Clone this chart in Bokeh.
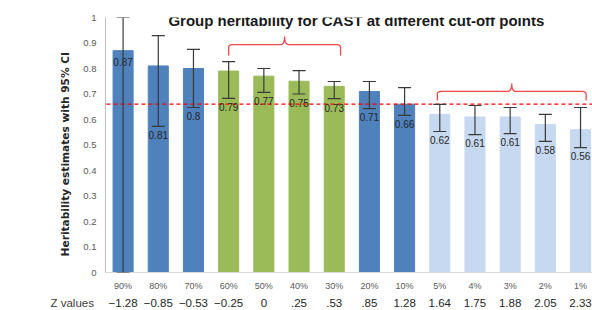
import numpy as np
from bokeh.plotting import figure
from bokeh.models import (ColumnDataSource, Whisker, Label, Arrow, LinearAxis, Title,
                          FixedTicker, TeeHead, Range1d, CustomJSTickFormatter)
from bokeh.core.properties import value
from bokeh.embed import file_html
from bokeh.resources import INLINE

cutoffs = ["90%", "80%", "70%", "60%", "50%", "40%", "30%", "20%", "10%",
           "5%", "4%", "3%", "2%", "1%"]
z_values = ["\u22121.28", "\u22120.85", "\u22120.53", "\u22120.25", "0", ".25", ".53",
            ".85", "1.28", "1.64", "1.75", "1.88", "2.05", "2.33"]
heritability = [0.87, 0.81, 0.80, 0.79, 0.77, 0.75, 0.73, 0.71, 0.66,
                0.62, 0.61, 0.61, 0.58, 0.56]
value_labels = ["0.87", "0.81", "0.8", "0.79", "0.77", "0.75", "0.73", "0.71", "0.66",
                "0.62", "0.61", "0.61", "0.58", "0.56"]
ci_lower = [0.0, 0.573, 0.647, 0.683, 0.706, 0.70, 0.682, 0.643, 0.616,
            0.553, 0.541, 0.545, 0.514, 0.49]
ci_upper = [1.0, 0.929, 0.875, 0.827, 0.80, 0.792, 0.749, 0.749, 0.725,
            0.659, 0.655, 0.647, 0.62, 0.647]
groups = ["blue", "blue", "blue", "green", "green", "green", "green", "blue", "blue",
          "light", "light", "light", "light", "light"]
threshold = 0.66
y_ticks = [0, 0.1, 0.2, 0.3, 0.4, 0.5, 0.6, 0.7, 0.8, 0.9, 1.0]

palette = {"blue": "#4F81BD", "green": "#9BBB59", "light": "#C6D9F1"}
FONT = "Liberation Sans"

n = len(cutoffs)
xs = np.arange(n)
h = np.array(heritability)
lo = np.array(ci_lower)
label_y = np.where(lo > 0.3, lo - 0.035, h - 0.045)

src = ColumnDataSource(dict(
    x=xs, h=h, lower=lo, upper=np.array(ci_upper),
    color=[palette[g] for g in groups], label=value_labels, ly=label_y))

p = figure(frame_width=487, frame_height=255, x_range=Range1d(-0.5, 13.34), y_range=Range1d(0, 1),
           output_backend="svg", toolbar_location=None,
           min_border_left=105, min_border_right=0, min_border_top=17, min_border_bottom=38)
p.outline_line_color = None
p.xgrid.grid_line_color = None
p.ygrid.grid_line_color = None
p.background_fill_color = "white"
p.border_fill_color = "white"

p.vbar(x="x", top="h", width=0.57, source=src, fill_color="color", line_color="color")

whisk = Whisker(base="x", upper="upper", lower="lower", source=src,
                line_color="#3A3A3A", line_width=1.2, level="overlay",
                upper_head=TeeHead(size=13, line_color="#3A3A3A", line_width=1.2),
                lower_head=TeeHead(size=13, line_color="#3A3A3A", line_width=1.2))
p.add_layout(whisk)

p.text(x="x", y="ly", text="label", source=src, text_align="center",
       text_baseline="middle", text_font_size="10px", text_color="#262626",
       text_font=value(FONT), level="overlay")

# threshold dashed line (extends past the frame to the left)
p.add_layout(Arrow(end=None, x_start=-3.06, y_start=threshold, x_end=13.6, y_end=threshold,
                   line_color="#FF0000", line_dash="4 3", line_width=1.3))

def brace(xa, xb, yb, yend, ypk, rx=0.12, ry=0.012):
    xm = (xa + xb) / 2
    def qb(p0, c, p1, m=8):
        t = np.linspace(0, 1, m)
        return ((1 - t) ** 2 * p0[0] + 2 * (1 - t) * t * c[0] + t ** 2 * p1[0],
                (1 - t) ** 2 * p0[1] + 2 * (1 - t) * t * c[1] + t ** 2 * p1[1])
    px, py = [xa], [yend]
    a = qb((xa, yb - ry), (xa, yb), (xa + rx, yb)); px += list(a[0]); py += list(a[1])
    b = qb((xm - rx, yb), (xm, yb), (xm, ypk)); px += list(b[0]); py += list(b[1])
    c = qb((xm, ypk), (xm, yb), (xm + rx, yb)); px += list(c[0]); py += list(c[1])
    d = qb((xb - rx, yb), (xb, yb), (xb, yb - ry)); px += list(d[0]); py += list(d[1])
    px.append(xb); py.append(yend)
    return px, py

green_idx = [i for i, g in enumerate(groups) if g == "green"]
light_idx = [i for i, g in enumerate(groups) if g == "light"]
bx1, by1 = brace(green_idx[0], green_idx[-1] + 0.18, 0.894, 0.851, 0.925)
bx2, by2 = brace(light_idx[0] - 0.07, light_idx[-1] + 0.16, 0.71, 0.675, 0.741)
p.line(bx1, by1, line_color="#F04848", line_width=1.3)
p.line(bx2, by2, line_color="#F04848", line_width=1.3)

# y axis
p.yaxis.ticker = FixedTicker(ticks=y_ticks)
p.yaxis.formatter = CustomJSTickFormatter(code="return tick.toFixed(1).replace(/\\.0$/, '')")
p.yaxis.axis_line_color = "#BFBFBF"
p.yaxis.major_tick_line_color = None
p.yaxis.minor_tick_line_color = None
p.yaxis.major_tick_out = 0
p.yaxis.major_label_standoff = 9
p.yaxis.major_label_text_font = FONT
p.yaxis.major_label_text_font_size = "9.5px"
p.yaxis.major_label_text_color = "#595959"
p.yaxis.axis_label = "Heritability estimates with 95% CI" + "\u00a0" * 5
p.yaxis.axis_label_text_font = "DejaVu Sans"
p.yaxis.axis_label_text_font_size = "10.6px"
p.yaxis.axis_label_text_font_style = "bold"
p.yaxis.axis_label_text_color = "#262626"
p.yaxis.axis_label_standoff = 9

# x axis: cut-off labels
p.xaxis.ticker = FixedTicker(ticks=list(range(n)))
p.xaxis.formatter = CustomJSTickFormatter(args=dict(labels=cutoffs),
                                          code="return labels[Math.round(tick)] ?? ''")
p.xaxis.axis_line_color = "#D9D9D9"
p.xaxis.major_tick_line_color = None
p.xaxis.minor_tick_line_color = None
p.xaxis.major_tick_out = 0
p.xaxis.major_label_standoff = 8
p.xaxis.major_label_text_font = FONT
p.xaxis.major_label_text_font_size = "9px"
p.xaxis.major_label_text_color = "#595959"

# second x axis: z values
zaxis = LinearAxis(ticker=FixedTicker(ticks=list(range(n))),
                   formatter=CustomJSTickFormatter(args=dict(labels=z_values),
                                                   code="return labels[Math.round(tick)] ?? ''"))
zaxis.axis_line_color = None
zaxis.major_tick_line_color = None
zaxis.minor_tick_line_color = None
zaxis.major_tick_out = 0
zaxis.major_label_standoff = 5
zaxis.major_label_text_font = FONT
zaxis.major_label_text_font_size = "11.5px"
zaxis.major_label_text_color = "#262626"
p.add_layout(zaxis, "below")

# caption of the z row (top-anchored, pulled up into the z row)
ztitle = Title(text="Z values", align="left", vertical_align="top", offset=-55, standoff=-26,
               text_font=FONT, text_font_size="11.5px", text_font_style="normal",
               text_color="#404040")
p.add_layout(ztitle, "below")

p.add_layout(Label(x=255, y=252, x_units="screen", y_units="screen",
                   text="Group  heritability  for CAST at different cut-off points",
                   text_font=FONT, text_font_size="15px", text_font_style="bold",
                   text_color="#1A1A1A", text_baseline="middle", text_align="center"))

open("out.html", "w").write(file_html(p, INLINE))
